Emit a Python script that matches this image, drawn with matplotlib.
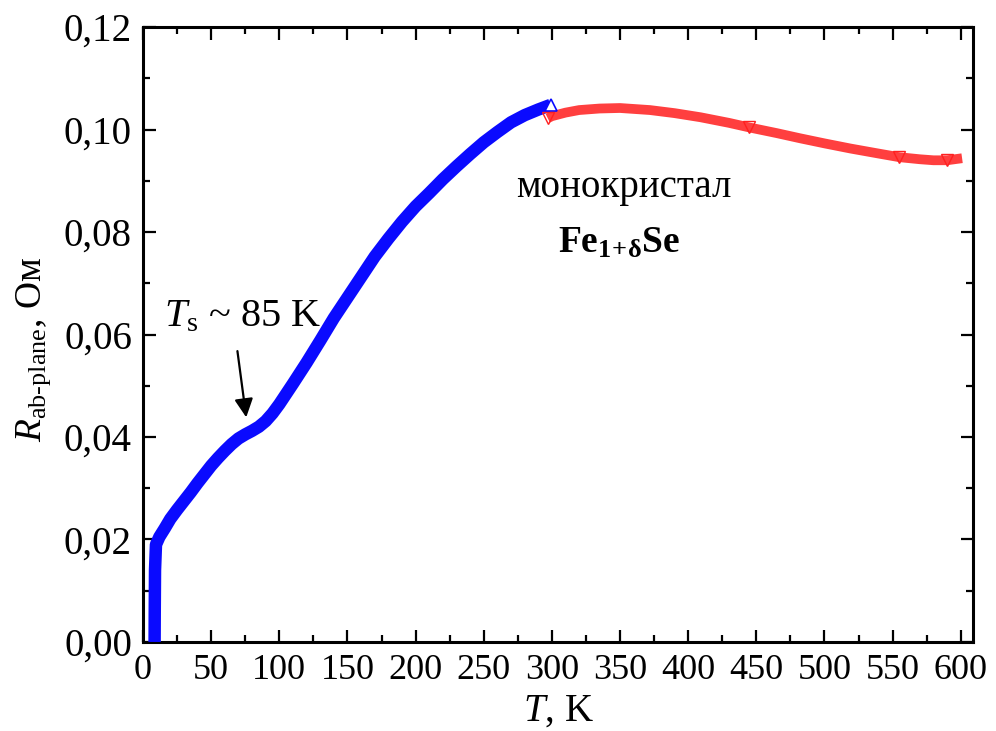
import matplotlib
matplotlib.use("Agg")
import matplotlib.pyplot as plt
from matplotlib.ticker import MultipleLocator

plt.rcParams['font.family'] = ['Liberation Serif', 'DejaVu Serif']
plt.rcParams['mathtext.fontset'] = 'custom'
plt.rcParams['mathtext.rm'] = 'Liberation Serif'
plt.rcParams['mathtext.it'] = 'Liberation Serif:italic'
plt.rcParams['mathtext.bf'] = 'Liberation Serif:bold'

# ---- data ----
T_low = [8.5, 8.6, 8.8, 9.5, 12, 16, 20, 25, 30, 35, 40, 45, 50, 55, 60, 65, 70,
         75, 80, 85, 90, 95, 100, 105, 110, 120, 130, 140, 150, 160, 170, 180,
         190, 200, 210, 220, 230, 240, 250, 260, 270, 280, 290, 299]
R_low = [0.0, 0.006, 0.014, 0.019, 0.0205, 0.0222, 0.0240, 0.0258, 0.0275,
         0.0292, 0.0310, 0.0327, 0.0344, 0.0359, 0.0373, 0.0386, 0.0397, 0.0405,
         0.0412, 0.0420, 0.0431, 0.0446, 0.0464, 0.0484, 0.0504, 0.0545, 0.0588,
         0.0632, 0.0672, 0.0712, 0.0752, 0.0787, 0.0820, 0.0850, 0.0876, 0.0903,
         0.0928, 0.0952, 0.0975, 0.0995, 0.1014, 0.1028, 0.1039, 0.1048]

T_high = [297, 300, 310, 320, 335, 350, 372, 390, 409, 430, 445, 465, 482, 500,
          519, 540, 555, 570, 580, 590, 601]
R_high = [0.1022, 0.1026, 0.1033, 0.1038, 0.1041, 0.1042, 0.1038, 0.1032,
          0.1024, 0.1013, 0.1004, 0.0993, 0.0983, 0.0973, 0.0963, 0.0953,
          0.0946, 0.0942, 0.0940, 0.0940, 0.0944]

x_ticks = [0, 50, 100, 150, 200, 250, 300, 350, 400, 450, 500, 550, 600]
x_tick_labels = ['0', '50', '100', '150', '200', '250', '300', '350', '400',
                 '450', '500', '550', '600']
y_ticks = [0.00, 0.02, 0.04, 0.06, 0.08, 0.10, 0.12]
y_tick_labels = ['0,00', '0,02', '0,04', '0,06', '0,08', '0,10', '0,12']

# ---- figure ----
fig = plt.figure(figsize=(9.96, 7.31), dpi=100)
ax = fig.add_axes([0.1436, 0.1218, 0.8333, 0.8412])

ax.plot(T_low, R_low, color='#0a0aff', lw=9, solid_capstyle='butt',
        solid_joinstyle='round', zorder=3)
ax.plot(T_low[-1:], R_low[-1:], ls='none', marker='^', ms=9, mfc='white',
        mec='#0a0aff', mew=1.2, zorder=4)
ax.plot(T_high, R_high, color='#ff2a2a', lw=7, solid_capstyle='butt',
        solid_joinstyle='round', alpha=0.9, zorder=3)
ax.plot(T_high, R_high, ls='none', marker='v', ms=8, mfc='none',
        mec='#ff2020', mew=1.0, markevery=[0, 10, 16, 19], zorder=4)

ax.set_xlim(0, 609)
ax.set_ylim(0, 0.12)
ax.set_xticks(x_ticks)
ax.set_xticklabels(x_tick_labels)
ax.set_yticks(y_ticks)
ax.set_yticklabels(y_tick_labels)
ax.xaxis.set_minor_locator(MultipleLocator(25))
ax.yaxis.set_minor_locator(MultipleLocator(0.01))

ax.tick_params(which='both', direction='in', top=True, right=True, width=1.6)
ax.tick_params(which='major', length=9, labelsize=26, pad=9)
ax.tick_params(which='minor', length=5)
ax.tick_params(axis='y', labelsize=28, pad=8)
for s in ax.spines.values():
    s.set_linewidth(2.2)

ax.set_xlabel(r'$T$, K', fontsize=28, labelpad=4)
ax.set_ylabel('$R_{\\mathrm{ab\u2010plane}}$, Ом', fontsize=27)
ax.yaxis.set_label_coords(-0.108, 0.475)

ax.annotate('', xy=(76, 0.0433), xytext=(69, 0.0573),
            arrowprops=dict(arrowstyle='-|>', color='black', lw=1.6,
                            mutation_scale=28))
ax.text(73, 0.0635, r'$T_{\mathrm{s}}$ ~ 85 K', fontsize=29,
        ha='center', va='center')
ax.text(353, 0.0886, 'монокристал', fontsize=28, ha='center', va='center')
ax.text(349, 0.0778, r'$\mathbf{Fe}_{\mathbf{1\!+\!\delta}}\mathbf{Se}$',
        fontsize=27, ha='center', va='center')

fig.savefig('out.png', dpi=100)
